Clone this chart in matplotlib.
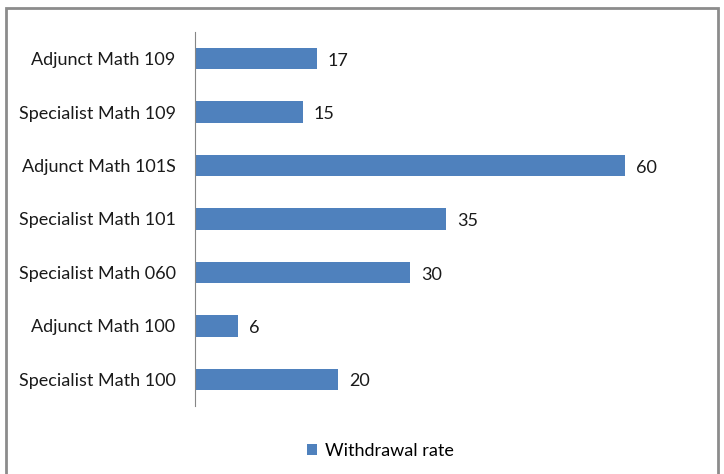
import matplotlib.pyplot as plt
from matplotlib.patches import Rectangle

# withdrawal rate per course section, top to bottom
courses = ["Adjunct Math 109", "Specialist Math 109", "Adjunct Math 101S",
           "Specialist Math 101", "Specialist Math 060", "Adjunct Math 100",
           "Specialist Math 100"]
rates = [17, 15, 60, 35, 30, 6, 20]

plt.rcParams['font.family'] = ['Lato', 'DejaVu Sans']

W, H = 724, 474
fig = plt.figure(figsize=(W / 100, H / 100), dpi=100)

# outer chart frame
fig.patches.append(Rectangle((6 / W, -0.05), 712 / W, 1.05 - 8 / H,
                             transform=fig.transFigure, fill=False,
                             edgecolor="#8c8c8c", linewidth=2))

ax = fig.add_axes([195 / W, 1 - 406 / H, 500 / W, 374 / H])
ypos = list(range(len(courses)))[::-1]
bars = ax.barh(ypos, rates, height=0.4, color="#4f81bd", label="Withdrawal rate")
ax.set_ylim(-0.5, len(courses) - 0.5)
ax.set_xlim(0, 500 / 7.17)
ax.set_yticks(ypos)
ax.set_yticklabels(courses, fontsize=13, color="#1a1a1a")
ax.tick_params(axis="y", length=0, pad=14)
ax.set_xticks([])
for s in ["top", "right", "bottom"]:
    ax.spines[s].set_visible(False)
ax.spines["left"].set_color("#868686")

for y, v in zip(ypos, rates):
    ax.annotate(str(v), (v, y), xytext=(8, -1.5), textcoords="offset points",
                va="center", ha="left", fontsize=13, color="#1a1a1a")

fig.legend(handles=[bars], labels=["Withdrawal rate"], loc="center",
           bbox_to_anchor=(380 / W, 1 - 451 / H), frameon=False,
           fontsize=13, handlelength=0.6, handleheight=0.6, handletextpad=0.4)

fig.savefig("out.png", dpi=100)
